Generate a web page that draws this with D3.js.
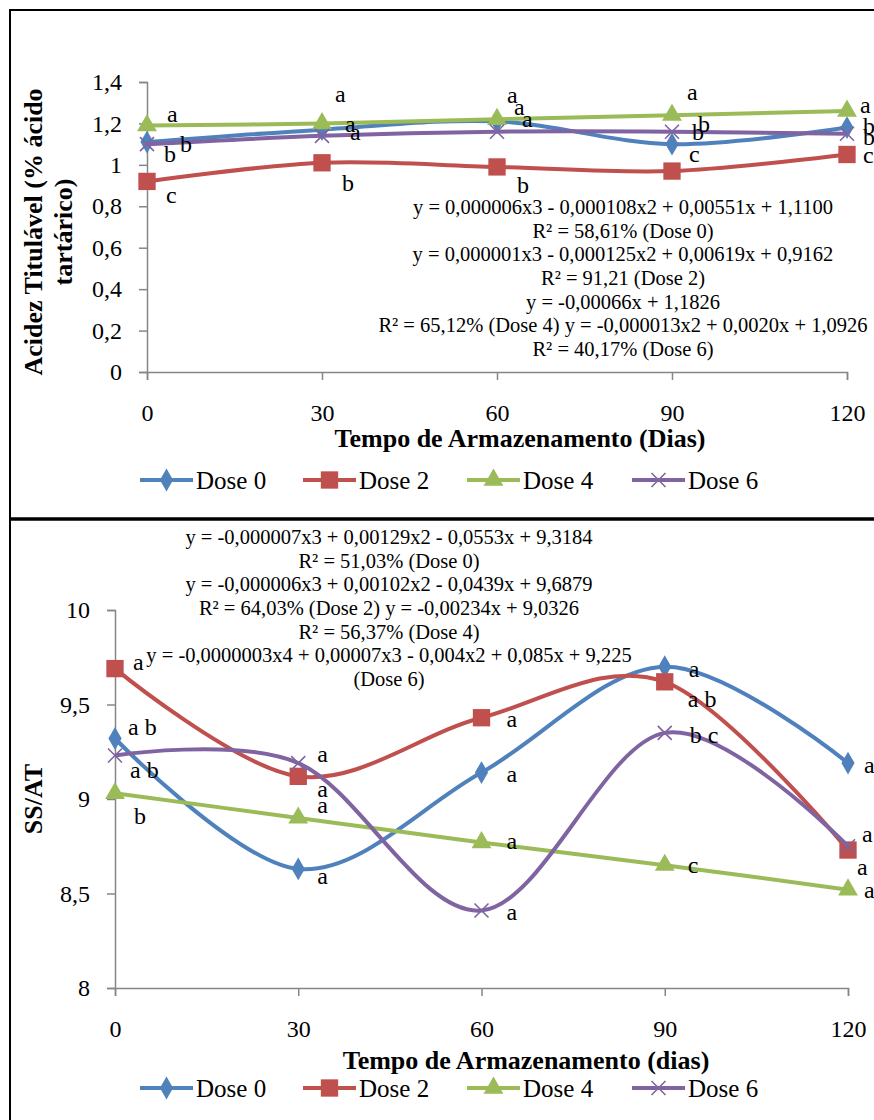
<!DOCTYPE html>
<html>
<head>
<meta charset="utf-8">
<script src="https://cdn.jsdelivr.net/npm/d3@7.9.0/dist/d3.min.js"></script>
<style>
  body { margin: 0; background: #fff; }
  svg { display: block; font-family: "Liberation Serif", "Times New Roman", serif; }
</style>
</head>
<body>
<svg id="chart" width="874" height="1120"></svg>
<script>
// ---- data ----
const days = [0, 30, 60, 90, 120];
const doses = ['Dose 0', 'Dose 2', 'Dose 4', 'Dose 6'];

// acidez titulável (% ácido tartárico)
const acidezDose0 = [1.11, 1.17, 1.21, 1.10, 1.18];
const acidezDose2 = [0.92, 1.01, 0.99, 0.97, 1.05];
const acidezDose4 = [1.19, 1.20, 1.22, 1.24, 1.26];
const acidezDose6 = [1.10, 1.14, 1.16, 1.16, 1.15];

const acidezLetras0 = ['b', 'a', 'a', 'b', 'b'];
const acidezLetras2 = ['c', 'b', 'b', 'c', 'c'];
const acidezLetras4 = ['a', 'a', 'a', 'a', 'a'];
const acidezLetras6 = ['b', 'a', 'a', 'b', 'b'];

// SS/AT
const ratioDose0 = [9.32, 8.63, 9.14, 9.70, 9.19];
const ratioDose2 = [9.69, 9.12, 9.43, 9.62, 8.73];
const ratioDose4 = [9.03, 8.90, 8.77, 8.65, 8.52];
const ratioDose6 = [9.23, 9.19, 8.41, 9.35, 8.75];

const ratioLetras0 = ['a b', 'a', 'a', 'a', 'a'];
const ratioLetras2 = ['a', 'a', 'a', 'a b', 'a'];
const ratioLetras4 = ['b', 'a', 'a', 'c', 'a'];
const ratioLetras6 = ['a b', 'a', 'a', 'b c', 'a'];

const acidezTicks = [0, 0.2, 0.4, 0.6, 0.8, 1, 1.2, 1.4];
const ratioTicks = [8, 8.5, 9, 9.5, 10];

const acidezEquacoes = [
  'y = 0,000006x3 - 0,000108x2 + 0,00551x + 1,1100',
  'R² = 58,61% (Dose 0)',
  'y = 0,000001x3 - 0,000125x2 + 0,00619x + 0,9162',
  'R² = 91,21 (Dose 2)',
  'y = -0,00066x + 1,1826',
  'R² = 65,12% (Dose 4) y = -0,000013x2 + 0,0020x + 1,0926',
  'R² = 40,17% (Dose 6)'
];
const ratioEquacoes = [
  'y = -0,000007x3 + 0,00129x2 - 0,0553x + 9,3184',
  'R² = 51,03% (Dose 0)',
  'y = -0,000006x3 + 0,00102x2 - 0,0439x + 9,6879',
  'R² = 64,03% (Dose 2) y = -0,00234x + 9,0326',
  'R² = 56,37% (Dose 4)',
  'y = -0,0000003x4 + 0,00007x3 - 0,004x2 + 0,085x + 9,225',
  '(Dose 6)'
];

// ---- style ----
const colors = ['#4F81BD', '#C0504D', '#9BBB59', '#8064A2'];
const markers = ['diamond', 'square', 'triangle', 'cross'];
const axisColor = '#868686';
const fmt = v => String(v).replace('.', ',');

// label offsets (dx, dy from point to text baseline), per series then per day
const acidezOffsets = [
  [[33, 10], [23, 2], [17, -6], [20, -4], [16, 6]],
  [[19, 22], [20, 28], [20, 26], [17, -9], [16, 8]],
  [[20, -4], [13, -21], [10, -16], [15, -15], [13, 2]],
  [[17, 18], [28, 4], [25, -5], [26, 0], [16, 11]]
];
const ratioOffsets = [
  [[13, -4], [19, 15], [25, 9], [24, 10], [16, 10]],
  [[18, 1], [19, 21], [25, 9], [23, 25], [9, 25]],
  [[19, 31], [19, -5], [25, 7], [23, 8], [16, 8]],
  [[15, 22], [19, -1], [25, 9], [25, 10], [14, -4]]
];

const svg = d3.select('#chart');

// panel borders
svg.append('path').attr('d', 'M10,1120 V10 H874').attr('fill', 'none')
  .attr('stroke', '#000').attr('stroke-width', 2);
svg.append('line').attr('x1', 9).attr('x2', 874).attr('y1', 519).attr('y2', 519)
  .attr('stroke', '#000').attr('stroke-width', 3.5);

function markerPath(type) {
  if (type === 'diamond') return d3.symbol(d3.symbolDiamond, 150)();
  if (type === 'square') return d3.symbol(d3.symbolSquare, 300)();
  if (type === 'triangle') return d3.symbol(d3.symbolTriangle, 170)();
  return 'M-7,-7L7,7M-7,7L7,-7';
}

function drawMarker(g, type, color, x, y) {
  const p = g.append('path').attr('d', markerPath(type))
    .attr('transform', `translate(${x},${y})`);
  if (type === 'cross') p.attr('fill', 'none').attr('stroke', color).attr('stroke-width', 1.6);
  else p.attr('fill', color);
}

function drawChart(cfg) {
  const g = svg.append('g');
  const x = d3.scaleLinear().domain([0, 120]).range([cfg.left, cfg.right]);
  const y = d3.scaleLinear().domain(cfg.yDomain).range([cfg.bottom, cfg.top]);

  // y axis
  const yAxis = g.append('g').attr('transform', `translate(${cfg.left},0)`)
    .call(d3.axisLeft(y).tickValues(cfg.yTicks).tickSizeOuter(0).tickSize(8)
      .tickPadding(17).tickFormat(fmt));
  // x axis
  const xAxis = g.append('g').attr('transform', `translate(0,${cfg.bottom})`)
    .call(d3.axisBottom(x).tickValues(days).tickSizeOuter(0).tickSize(8)
      .tickPadding(cfg.xPad).tickFormat(d => d));
  [yAxis, xAxis].forEach(a => {
    a.select('.domain').attr('stroke', axisColor).attr('stroke-width', 1.5);
    a.selectAll('.tick line').attr('stroke', axisColor).attr('stroke-width', 1.5);
    a.selectAll('.tick text').attr('fill', '#000').attr('font-size', 24)
      .attr('font-family', '"Liberation Serif", serif');
  });

  // series
  const line = d3.line().x((d, i) => x(days[i])).y(d => y(d))
    .curve(d3.curveCardinal.tension(0));
  cfg.series.forEach((vals, s) => {
    g.append('path').attr('d', line(vals)).attr('fill', 'none')
      .attr('stroke', colors[s]).attr('stroke-width', 4);
    vals.forEach((v, i) => drawMarker(g, markers[s], colors[s], x(days[i]), y(v)));
  });

  // letters
  cfg.series.forEach((vals, s) => {
    vals.forEach((v, i) => {
      const [dx, dy] = cfg.offsets[s][i];
      g.append('text').attr('x', x(days[i]) + dx).attr('y', y(v) + dy)
        .attr('font-size', 24).attr('xml:space', 'preserve').text(cfg.letters[s][i]);
    });
  });

  // equations
  cfg.equations.forEach((t, i) => {
    g.append('text').attr('x', cfg.eqX).attr('y', cfg.eqY + i * 23.67)
      .attr('text-anchor', 'middle').attr('font-size', 20.5).text(t);
  });

  // axis titles
  g.append('text').attr('x', cfg.xTitleX).attr('y', cfg.xTitleY)
    .attr('text-anchor', 'middle').attr('font-size', 26).attr('font-weight', 'bold')
    .text(cfg.xTitle);
  cfg.yTitle.forEach((t, i) => {
    g.append('text')
      .attr('transform', `translate(${cfg.yTitleX + i * 30},${cfg.yTitleY}) rotate(-90)`)
      .attr('text-anchor', 'middle').attr('font-size', 26).attr('font-weight', 'bold')
      .text(t);
  });

  // legend
  const legX = [140, 303, 467, 632];
  doses.forEach((name, s) => {
    const lx = legX[s];
    g.append('line').attr('x1', lx).attr('x2', lx + 53)
      .attr('y1', cfg.legendY).attr('y2', cfg.legendY)
      .attr('stroke', colors[s]).attr('stroke-width', 4);
    drawMarker(g, markers[s], colors[s], lx + 26.5, cfg.legendY);
    g.append('text').attr('x', lx + 56).attr('y', cfg.legendY + 9)
      .attr('font-size', 25).text(name);
  });
}

drawChart({
  left: 147, right: 847, top: 82, bottom: 372,
  yDomain: [0, 1.4], yTicks: acidezTicks, xPad: 24,
  series: [acidezDose0, acidezDose2, acidezDose4, acidezDose6],
  letters: [acidezLetras0, acidezLetras2, acidezLetras4, acidezLetras6],
  offsets: acidezOffsets,
  equations: acidezEquacoes, eqX: 623, eqY: 214,
  xTitle: 'Tempo de Armazenamento (Dias)', xTitleX: 520, xTitleY: 447,
  yTitle: ['Acidez Titulável (% ácido', 'tartárico)'], yTitleX: 42, yTitleY: 232,
  legendY: 480
});

drawChart({
  left: 115, right: 848, top: 610, bottom: 988,
  yDomain: [8, 10], yTicks: ratioTicks, xPad: 24,
  series: [ratioDose0, ratioDose2, ratioDose4, ratioDose6],
  letters: [ratioLetras0, ratioLetras2, ratioLetras4, ratioLetras6],
  offsets: ratioOffsets,
  equations: ratioEquacoes, eqX: 389, eqY: 544,
  xTitle: 'Tempo de Armazenamento (dias)', xTitleX: 526, xTitleY: 1069,
  yTitle: ['SS/AT'], yTitleX: 42, yTitleY: 799,
  legendY: 1088
});
</script>
</body>
</html>
